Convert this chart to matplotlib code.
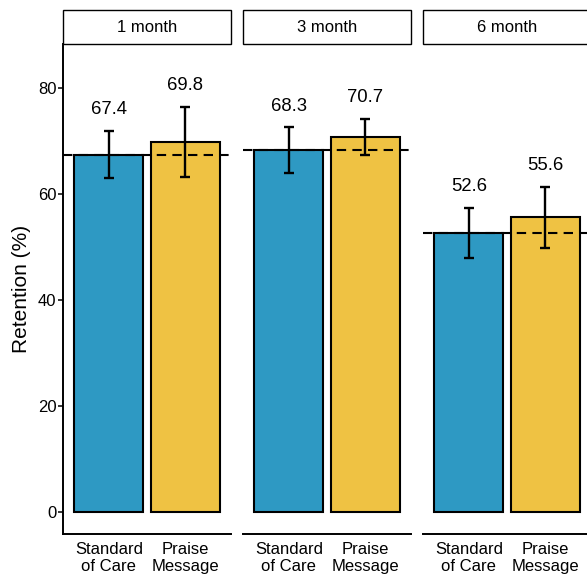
import matplotlib.pyplot as plt
from matplotlib.patches import Rectangle

plt.rcParams['font.family'] = ['Liberation Sans', 'DejaVu Sans']

months = ['1 month', '3 month', '6 month']
groups = ['Standard\nof Care', 'Praise\nMessage']
soc = [67.4, 68.3, 52.6]
praise = [69.8, 70.7, 55.6]
soc_lo = [63.0, 64.0, 47.9]
soc_hi = [71.9, 72.6, 57.4]
pr_lo = [63.2, 67.3, 49.8]
pr_hi = [76.4, 74.2, 61.3]
yticks = [0, 20, 40, 60, 80]

blue = '#2E99C3'
yellow = '#EFC243'

W, H = 587, 577
fig = plt.figure(figsize=(W / 100, H / 100), dpi=100)

lefts = [63, 243, 423]
pw = 168
top, bottom = 44, 534

for i in range(3):
    ax = fig.add_axes([lefts[i] / W, (H - bottom) / H, pw / W, (bottom - top) / H])
    vals = [soc[i], praise[i]]
    lo = [soc_lo[i], pr_lo[i]]
    hi = [soc_hi[i], pr_hi[i]]
    x = [1, 2]
    ax.bar(x, vals, width=0.9, color=[blue, yellow], edgecolor='black', linewidth=1.5, zorder=2)
    yerr = [[v - l for v, l in zip(vals, lo)], [h - v for v, h in zip(vals, hi)]]
    ax.errorbar(x, vals, yerr=yerr, fmt='none', ecolor='black', elinewidth=1.7,
                capsize=3.5, capthick=1.7, zorder=3)
    ax.axhline(soc[i], color='black', linewidth=1.5, linestyle=(0, (4.5, 3)), zorder=4)
    for xx, v, h in zip(x, vals, hi):
        ax.text(xx, h + 4.0, '%.1f' % v, ha='center', va='center', fontsize=13.3)

    ax.set_xlim(0.4, 2.6)
    ax.set_ylim(-4.15, 88.3)
    ax.set_xticks(x)
    ax.set_xticklabels(groups, fontsize=12, linespacing=1.1)
    ax.tick_params(axis='x', length=0, pad=6)
    for s in ['top', 'right']:
        ax.spines[s].set_visible(False)
    ax.spines['bottom'].set_linewidth(1.4)
    if i == 0:
        ax.set_yticks(yticks)
        ax.tick_params(axis='y', length=3.6, width=1.1, pad=1, labelsize=12)
        ax.spines['left'].set_linewidth(1.4)
    else:
        ax.spines['left'].set_visible(False)
        ax.set_yticks([])

    # facet strip
    sh = 34 / (bottom - top)
    ax.add_patch(Rectangle((0, 1), 1, sh, transform=ax.transAxes, facecolor='white',
                           edgecolor='black', linewidth=1.0, clip_on=False))
    ax.text(0.5, 1 + sh / 2, months[i], transform=ax.transAxes, ha='center',
            va='center', fontsize=12)

fig.text(22 / W, (H - (top + bottom) / 2) / H, 'Retention (%)', rotation=90,
         ha='center', va='center', fontsize=15)

fig.savefig('out.png', dpi=100)
